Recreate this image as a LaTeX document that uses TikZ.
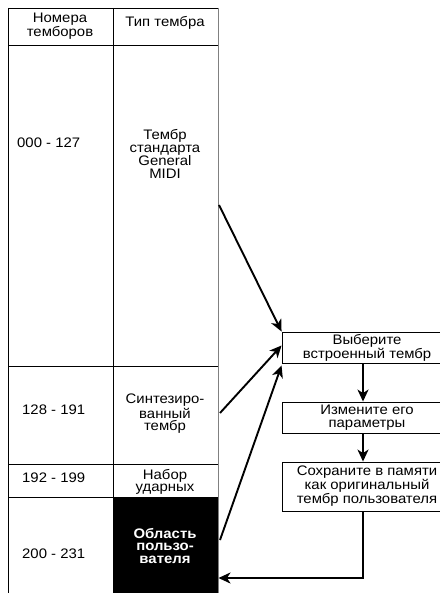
\documentclass[tikz,border=0pt]{standalone}
\usepackage{fontspec}
\setmainfont{Liberation Sans}[FakeStretch=1.08]
\usetikzlibrary{arrows.meta}

\definecolor{rulegray}{rgb}{0.5,0.5,0.5}

\begin{document}
\begin{tikzpicture}[x=1pt,y=-1pt,
  font=\fontsize{13.8}{12.7}\selectfont,
  cell/.style={align=center,inner sep=0pt},
  stepbox/.style={draw,line width=0.9pt,minimum width=170pt,align=center,inner sep=0pt},
  flow/.style={line width=1.9pt,-{Stealth[length=12pt,width=11pt,inset=3.5pt]}}]
  \useasboundingbox (0,0) rectangle (439,593);
  % table
  \draw[line width=0.8pt] (8,8) -- (218,8);
  \draw[line width=0.8pt] (8,8) -- (8,593);
  \draw[line width=0.8pt] (113,8) -- (113,593);
  \draw[line width=1pt,color=rulegray] (218,8) -- (218,593);
  \foreach \y in {45,366,464}
    \draw[line width=0.8pt] (8,\y) -- (218,\y);
  \draw[line width=0.8pt] (8,497) -- (113,497);
  \fill (113,497) rectangle (218,593);
  \node[cell] (numhead) at (60,26) {Номера\\темборов};
  \node[cell] (typehead) at (165,23) {Тип тембра};
  \node[cell,anchor=west] (num1) at (17,142.5) {000 - 127};
  \node[cell] (type1) at (165,154) {Тембр\\стандарта\\General\\MIDI};
  \node[cell,anchor=west] (num2) at (22,409.5) {128 - 191};
  \node[cell] (type2) at (165,414) {Синтезиро-\\ванный\\тембр};
  \node[cell,anchor=west] (num3) at (22,477.5) {192 - 199};
  \node[cell] (type3) at (165,482) {Набор\\ударных};
  \node[cell,anchor=west] (num4) at (22,553.5) {200 - 231};
  \node[cell,text=white,font=\fontsize{13.8}{12.7}\selectfont\bfseries] (type4) at (165,546) {Область\\пользо-\\вателя};
  % steps
  \node[stepbox,minimum height=31pt] (b1) at (367,347.5) {Выберите\\встроенный тембр};
  \node[stepbox,minimum height=31pt] (b2) at (367,417.5) {Измените его\\параметры};
  \node[stepbox,minimum height=49pt] (b3) at (367,486.5) {Сохраните в памяти\\как оригинальный\\тембр пользователя};
  \coordinate (r1) at (219,205);
  \coordinate (r2) at (220,413);
  \coordinate (r3) at (220,540);
  \coordinate (back) at (218.5,578);
  \draw[flow] (r1) -- (b1.north west);
  \draw[flow] (r2) -- ([yshift=2pt]b1.west);
  \draw[flow] (r3) -- ([yshift=-2pt]b1.south west);
  \draw[flow] ([xshift=-4pt]b1.south) -- ([xshift=-4pt]b2.north);
  \draw[flow] ([xshift=-4pt]b2.south) -- ([xshift=-4pt]b3.north);
  \draw[flow] ([xshift=-4pt]b3.south) |- (back);
\end{tikzpicture}
\end{document}
